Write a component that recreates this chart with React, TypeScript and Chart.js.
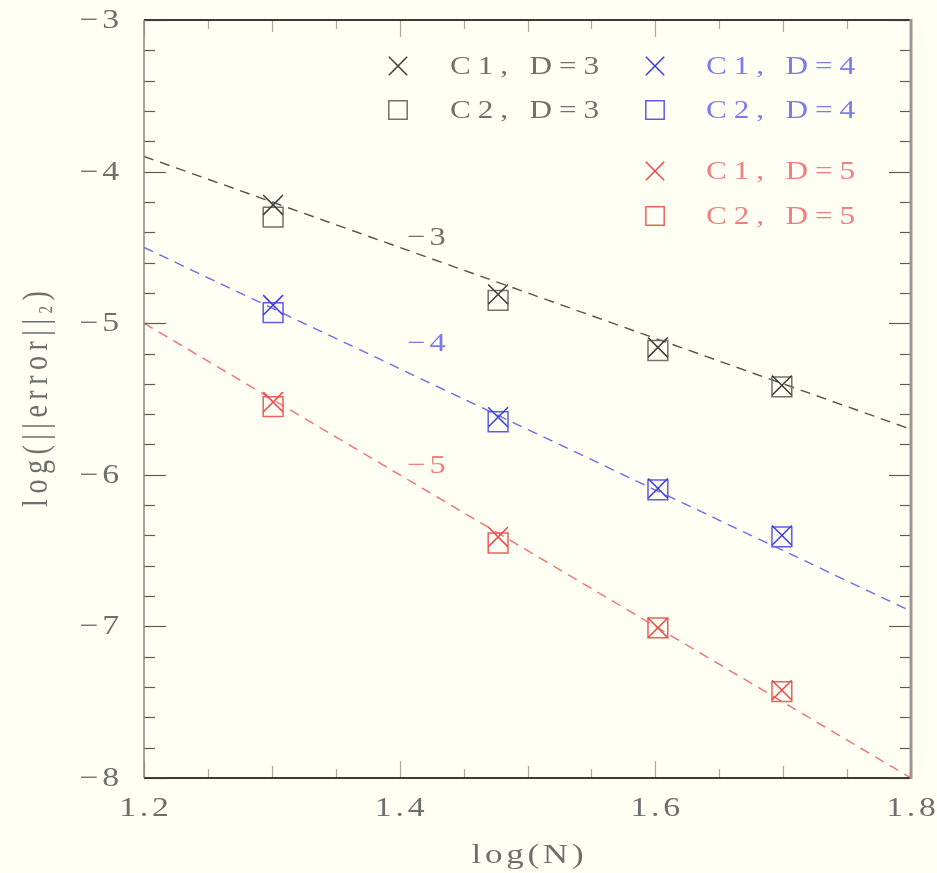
import React, { useEffect, useRef } from "react";
import { Chart, registerables } from "chart.js";
import { drawPoint } from "chart.js/helpers";

Chart.register(...registerables);

// ---------- data ----------
const logN = [1.301, 1.477, 1.602, 1.699];
const c1D3 = [-4.22, -4.81, -5.16, -5.41];
const c2D3 = [-4.3, -4.85, -5.18, -5.42];
const c1D4 = [-4.88, -5.62, -6.09, -6.4];
const c2D4 = [-4.93, -5.65, -6.1, -6.41];
const c1D5 = [-5.52, -6.41, -7.01, -7.42];
const c2D5 = [-5.55, -6.45, -7.01, -7.43];

const fitX = [1.2, 1.8];
const fitD3 = [-3.9, -5.7];
const fitD4 = [-4.5, -6.9];
const fitD5 = [-5.0, -8.0];

const slopeLabels = ["\u22123", "\u22124", "\u22125"];
const slopeLabelX = [1.421, 1.421, 1.421];
const slopeLabelY = [-4.44, -5.14, -5.94];

const legendLabels = ["C1, D=3", "C2, D=3", "C1, D=4", "C2, D=4", "C1, D=5", "C2, D=5"];

const xTicks = [1.2, 1.25, 1.3, 1.35, 1.4, 1.45, 1.5, 1.55, 1.6, 1.65, 1.7, 1.75, 1.8];
const xLabelTicks = [1.2, 1.4, 1.6, 1.8];
const yTicks = [
  -8, -7.8, -7.6, -7.4, -7.2, -7, -6.8, -6.6, -6.4, -6.2, -6, -5.8, -5.6, -5.4, -5.2,
  -5, -4.8, -4.6, -4.4, -4.2, -4, -3.8, -3.6, -3.4, -3.2, -3,
];
const yLabelTicks = [-8, -7, -6, -5, -4, -3];

const xTitle = "log(N)";

// ---------- styles ----------
const CREAM = "#fffff3";
const SERIF = "'Liberation Serif', 'DejaVu Serif', serif";
const SX = 1.25;

const colGray = { cross: "#3c3c3c", square: "#707070", line: "#505050", text: "#707070" };
const colBlue = { cross: "#3a3ae6", square: "#5c5cec", line: "#6a6af0", text: "#7b7bee" };
const colRed = { cross: "#e84a4a", square: "#ec6060", line: "#f07070", text: "#ee8080" };
const groupColors = [colGray, colBlue, colRed];

function pts(xs: number[], ys: number[]) {
  return xs.map((x, i) => ({ x, y: ys[i] }));
}

function spacedWidth(ctx: CanvasRenderingContext2D, text: string, spacing: number) {
  const chars = [...text];
  let w = 0;
  for (const ch of chars) w += ctx.measureText(ch).width;
  return w + spacing * Math.max(0, chars.length - 1);
}

function drawSpaced(
  ctx: CanvasRenderingContext2D,
  text: string,
  x: number,
  y: number,
  font: string,
  color: string,
  align: "left" | "center" | "right",
  spacing: number,
  sx = SX
) {
  ctx.save();
  ctx.font = font;
  ctx.fillStyle = color;
  ctx.textBaseline = "middle";
  ctx.textAlign = "left";
  ctx.translate(x, y);
  ctx.scale(sx, 1);
  const w = spacedWidth(ctx, text, spacing);
  let pos = align === "left" ? 0 : align === "right" ? -w : -w / 2;
  for (const ch of [...text]) {
    ctx.fillText(ch, pos, 0);
    pos += ctx.measureText(ch).width + spacing;
  }
  ctx.restore();
}

function isMult(v: number, s: number) {
  const q = v / s;
  return Math.abs(q - Math.round(q)) < 1e-6;
}

function line(ctx: CanvasRenderingContext2D, x1: number, y1: number, x2: number, y2: number) {
  ctx.beginPath();
  ctx.moveTo(x1, y1);
  ctx.lineTo(x2, y2);
  ctx.stroke();
}

const customPlugin = {
  id: "customFrame",
  beforeDraw(chart: any) {
    const ctx = chart.ctx as CanvasRenderingContext2D;
    ctx.save();
    ctx.fillStyle = CREAM;
    ctx.fillRect(0, 0, chart.width, chart.height);
    ctx.restore();
  },
  afterDatasetsDraw(chart: any) {
    const ctx = chart.ctx as CanvasRenderingContext2D;
    const a = chart.chartArea;
    const xs = chart.scales.x;
    const ys = chart.scales.y;

    ctx.save();
    ctx.lineCap = "butt";
    // x ticks (inward, top and bottom)
    for (const t of xs.ticks) {
      const px = Math.round(xs.getPixelForValue(t.value)) + 0.5;
      const len = isMult(t.value, 0.2) ? 17 : isMult(t.value, 0.1) ? 12 : 9;
      ctx.strokeStyle = "#aaa6a2";
      ctx.lineWidth = 1.2;
      line(ctx, px, a.bottom, px, a.bottom - len);
      line(ctx, px, a.top, px, a.top + len);
    }
    // y ticks (inward, left and right)
    for (const t of ys.ticks) {
      const py = Math.round(ys.getPixelForValue(t.value)) + 0.5;
      const major = yLabelTicks.some((v) => Math.abs(v - t.value) < 1e-9);
      const len = major ? 22 : 11;
      ctx.strokeStyle = "#5a5a5a";
      ctx.lineWidth = 1.2;
      line(ctx, a.left, py, a.left + len, py);
      line(ctx, a.right, py, a.right - len, py);
    }

    // frame
    ctx.strokeStyle = "#3a3a3a";
    ctx.lineWidth = 2;
    line(ctx, a.left, a.top, a.right, a.top);
    line(ctx, a.left, a.bottom, a.right, a.bottom);
    ctx.strokeStyle = "#8c8484";
    ctx.lineWidth = 1.5;
    line(ctx, a.left, a.top, a.left, a.bottom);
    ctx.strokeStyle = "#a39494";
    ctx.lineWidth = 3;
    line(ctx, a.right, a.top - 1, a.right, a.bottom + 1);
    ctx.restore();

    // tick labels
    const tickFont = `27px ${SERIF}`;
    for (const v of yLabelTicks) {
      const py = ys.getPixelForValue(v);
      const txt = (v < 0 ? "\u2212" : "") + String(Math.abs(v));
      drawSpaced(ctx, txt, a.left - 25, py + 1, tickFont, "#6e6e6e", "right", 3);
    }
    for (const v of xLabelTicks) {
      const px = xs.getPixelForValue(v);
      drawSpaced(ctx, v.toFixed(1), px, a.bottom + 31, tickFont, "#6e6e6e", "center", 3);
    }

    // axis titles
    drawSpaced(ctx, xTitle, (a.left + a.right) / 2, a.bottom + 78, `28px ${SERIF}`, "#6e6e6e", "center", 3);

    // y title, rotated, with subscript
    {
      const cx = 38;
      const cy = (a.top + a.bottom) / 2;
      const segs = [
        { t: "log(||error||", f: `28px ${SERIF}`, dy: 0 },
        { t: "2", f: `15px ${SERIF}`, dy: 7 },
        { t: ")", f: `28px ${SERIF}`, dy: 0 },
      ];
      const sp = 5.5;
      ctx.save();
      ctx.translate(cx, cy);
      ctx.scale(SX, 1);
      ctx.rotate(-Math.PI / 2);
      ctx.fillStyle = "#6e6e6e";
      ctx.textBaseline = "middle";
      ctx.textAlign = "left";
      let total = 0;
      for (const s of segs) {
        ctx.font = s.f;
        total += spacedWidth(ctx, s.t, sp) + sp;
      }
      total -= sp;
      let pos = -total / 2;
      for (const s of segs) {
        ctx.font = s.f;
        for (const ch of [...s.t]) {
          ctx.fillText(ch, pos, s.dy);
          pos += ctx.measureText(ch).width + sp;
        }
      }
      ctx.restore();
    }

    // slope labels
    for (let i = 0; i < slopeLabels.length; i++) {
      const px = xs.getPixelForValue(slopeLabelX[i]);
      const py = ys.getPixelForValue(slopeLabelY[i]);
      drawSpaced(ctx, slopeLabels[i], px, py, `26px ${SERIF}`, groupColors[i].text, "center", 3);
    }

    // legend
    const legendFont = `25px ${SERIF}`;
    const cols = [
      { sym: a.left + 254, txt: a.left + 306 },
      { sym: a.left + 511, txt: a.left + 562 },
    ];
    const entries = [
      { col: 0, y: a.top + 46, style: "crossRot", g: 0 },
      { col: 0, y: a.top + 90, style: "rect", g: 0 },
      { col: 1, y: a.top + 46, style: "crossRot", g: 1 },
      { col: 1, y: a.top + 90, style: "rect", g: 1 },
      { col: 1, y: a.top + 151, style: "crossRot", g: 2 },
      { col: 1, y: a.top + 196, style: "rect", g: 2 },
    ];
    entries.forEach((e, i) => {
      const c = groupColors[e.g];
      ctx.save();
      ctx.strokeStyle = e.style === "rect" ? c.square : c.cross;
      ctx.fillStyle = "rgba(0,0,0,0)";
      ctx.lineWidth = 1.5;
      drawPoint(ctx, { pointStyle: e.style as any, radius: 13, rotation: 0, borderWidth: 1.5 } as any, cols[e.col].sym, e.y);
      ctx.restore();
      drawSpaced(ctx, legendLabels[i], cols[e.col].txt, e.y + 1, legendFont, c.text, "left", 5.5);
    });
  },
};

function markerSet(ys: number[], style: string, color: string) {
  return {
    data: pts(logN, ys),
    showLine: false,
    pointStyle: style,
    pointRadius: 14,
    pointHoverRadius: 14,
    pointBorderWidth: 1.5,
    borderColor: color,
    backgroundColor: "rgba(0,0,0,0)",
    pointBackgroundColor: "rgba(0,0,0,0)",
    pointBorderColor: color,
  };
}

function fitSet(ys: number[], color: string) {
  return {
    data: pts(fitX, ys),
    showLine: true,
    borderColor: color,
    borderWidth: 1.4,
    borderDash: [10, 7],
    pointRadius: 0,
    pointHoverRadius: 0,
    fill: false,
  };
}

export default function App() {
  const ref = useRef<HTMLCanvasElement | null>(null);

  useEffect(() => {
    if (!ref.current) return;
    const chart = new Chart(ref.current, {
      type: "scatter",
      data: {
        datasets: [
          markerSet(c1D3, "crossRot", colGray.cross),
          markerSet(c2D3, "rect", colGray.square),
          markerSet(c1D4, "crossRot", colBlue.cross),
          markerSet(c2D4, "rect", colBlue.square),
          markerSet(c1D5, "crossRot", colRed.cross),
          markerSet(c2D5, "rect", colRed.square),
          fitSet(fitD3, colGray.line),
          fitSet(fitD4, colBlue.line),
          fitSet(fitD5, colRed.line),
        ] as any,
      },
      options: {
        animation: false,
        responsive: false,
        devicePixelRatio: 1,
        layout: { padding: { top: 20, right: 26, left: 0, bottom: 0 } },
        plugins: { legend: { display: false }, tooltip: { enabled: false } },
        events: [],
        scales: {
          x: {
            type: "linear",
            min: 1.2,
            max: 1.8,
            grid: { display: false },
            border: { display: false },
            ticks: { display: false },
            afterBuildTicks: (s: any) => {
              s.ticks = xTicks.map((v) => ({ value: v }));
            },
            afterFit: (s: any) => {
              s.height = 95;
            },
          },
          y: {
            type: "linear",
            min: -8,
            max: -3,
            grid: { display: false },
            border: { display: false },
            ticks: { display: false },
            afterBuildTicks: (s: any) => {
              s.ticks = yTicks.map((v) => ({ value: v }));
            },
            afterFit: (s: any) => {
              s.width = 144;
            },
          },
        },
      } as any,
      plugins: [customPlugin],
    });
    return () => chart.destroy();
  }, []);

  return (
    <div style={{ position: "fixed", left: 0, top: 0, width: 937, height: 873, background: CREAM }}>
      <canvas ref={ref} width={937} height={873} style={{ display: "block", width: 937, height: 873 }} />
    </div>
  );
}
